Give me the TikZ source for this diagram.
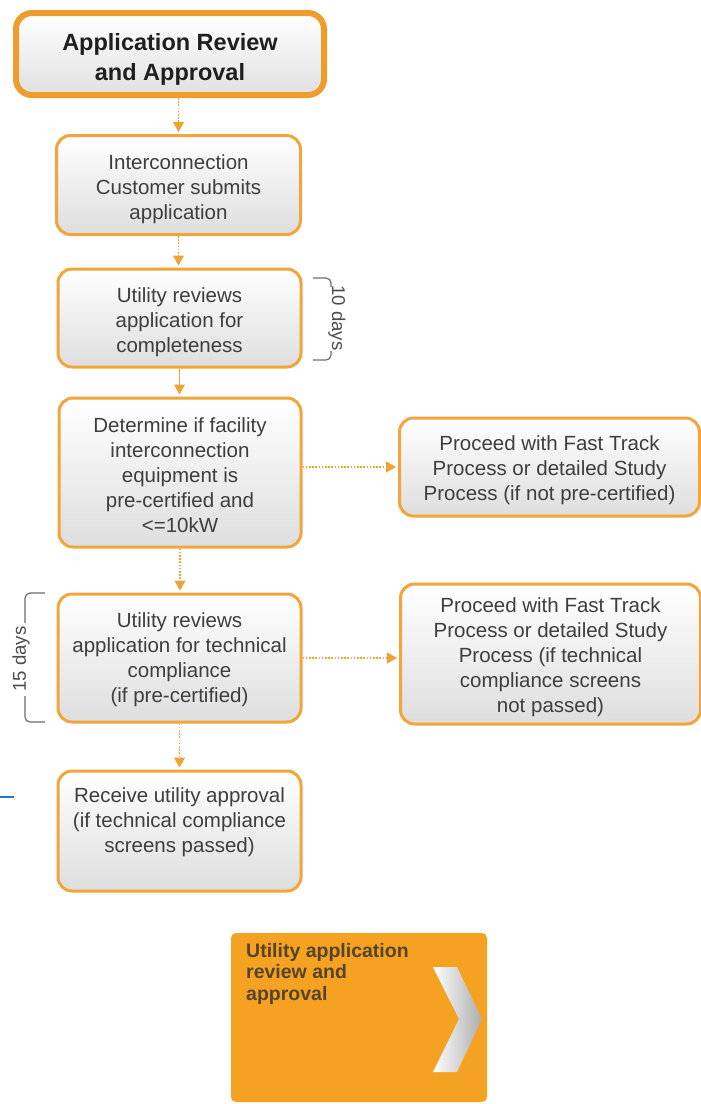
\documentclass[tikz,border=0pt]{standalone}
\usepackage{fontspec}
\setmainfont{Liberation Sans}
\usetikzlibrary{arrows.meta}

\definecolor{boxorange}{HTML}{F2A53A}
\definecolor{titleorange}{HTML}{EE9C2C}
\definecolor{linkorange}{HTML}{F0A233}
\definecolor{tabfill}{HTML}{F5A222}
\definecolor{bodytext}{HTML}{3E3E3E}
\definecolor{tabtext}{HTML}{56442A}
\definecolor{bracketgray}{HTML}{6E6E6E}
\definecolor{pageblue}{HTML}{2A74C8}

\begin{document}
\begin{tikzpicture}[x=1pt,y=-1pt,
  stepbox/.style={draw=boxorange, line width=3pt, rounded corners=14pt,
    top color=white, bottom color=black!13, inner sep=0pt},
  steptext/.style={align=center, text=bodytext,
    font=\fontsize{20.5}{25}\selectfont, inner sep=0pt},
  titlebox/.style={draw=titleorange, line width=6pt, rounded corners=16pt,
    top color=white, bottom color=black!12, inner sep=0pt},
  titletext/.style={align=center, text=black!88,
    font=\bfseries\fontsize{23.5}{30}\selectfont, inner sep=0pt},
  flow/.style={draw=linkorange, line width=1.2pt, dash pattern=on 1.6pt off 1.6pt,
    -{Triangle[width=11pt,length=10pt]}, shorten >=2pt},
  flowsolid/.style={draw=linkorange, line width=1.1pt,
    -{Triangle[width=11pt,length=10pt]}, shorten >=2pt},
  daylabel/.style={text=black!70, font=\fontsize{18.6}{20}\selectfont, inner sep=0pt},
  bracket/.style={draw=bracketgray, line width=1.2pt, rounded corners=5pt},
  tab/.style={fill=tabfill, rounded corners=5pt, inner sep=0pt},
  tablabel/.style={anchor=north west, inner sep=0pt, align=left, text=tabtext,
    font=\bfseries\fontsize{19.5}{21.5}\selectfont}
]
\useasboundingbox (0,0) rectangle (701,1104);
\fill[white] (0,0) rectangle (701,1104);

% main column: frames
\node[titlebox, minimum width=308pt, minimum height=82pt] (title) at (170,54) {};
\node[stepbox, minimum width=244pt, minimum height=99pt] (submit) at (178.5,185) {};
\node[stepbox, minimum width=243pt, minimum height=98pt] (complete) at (179.5,318) {};
\node[stepbox, minimum width=242pt, minimum height=149pt] (certify) at (180,472.5) {};
\node[stepbox, minimum width=243pt, minimum height=128pt] (technical) at (179.5,658) {};
\node[stepbox, minimum width=243pt, minimum height=120pt] (approve) at (179.5,831) {};

% side branches: frames
\node[stepbox, minimum width=300pt, minimum height=98pt] (fasttrackA) at (549.5,467) {};
\node[stepbox, minimum width=300pt, minimum height=140pt] (fasttrackB) at (550.5,654) {};

% labels
\node[titletext] (titleT) at (170,59) {Application Review\\and Approval};
\node[steptext] (submitT) at (178.5,189.5) {Interconnection\\Customer submits\\application};
\node[steptext] (completeT) at (179.5,322.5) {Utility reviews\\application for\\completeness};
\node[steptext] (certifyT) at (180,475)
  {Determine if facility\\interconnection\\equipment is\\pre-certified and\\<=10kW};
\node[steptext] (technicalT) at (179.5,660)
  {Utility reviews\\application for technical\\compliance\\(if pre-certified)};
\node[steptext] (approveT) at (179.5,822)
  {Receive utility approval\\(if technical compliance\\screens passed)};
\node[steptext] (fasttrackAT) at (549.5,470)
  {Proceed with Fast Track\\Process or detailed Study\\Process (if not pre-certified)};
\node[steptext] (fasttrackBT) at (550.5,657)
  {Proceed with Fast Track\\Process or detailed Study\\Process (if technical\\compliance screens\\not passed)};

% connectors
\draw[flow] (title.south -| submit.north) -- (submit.north);
\draw[flow] (submit.south) -- (submit.south |- complete.north);
\draw[flowsolid] (complete.south) -- (complete.south |- certify.north);
\draw[flow] (certify.south) -- (certify.south |- technical.north);
\draw[flow] (technical.south) -- (technical.south |- approve.north);
\draw[flow] (certify.east |- fasttrackA.west) -- (fasttrackA.west);
\draw[flow] (technical.east) -- (technical.east -| fasttrackB.west);

% durations
\node[daylabel, rotate=-90] (tenDays) at (337,318) {10 days};
\draw[bracket] (313,278) -- (331,278) -- (331,287);
\draw[bracket] (331,351) -- (331,360) -- (313,360);

\node[daylabel, rotate=90] (fifteenDays) at (21,659) {15 days};
\draw[bracket] (45,593) -- (25,593) -- (25,623);
\draw[bracket] (25,696) -- (25,722) -- (45,722);

% page edge mark
\coordinate (markA) at (0,797);
\coordinate (markB) at (14,797);
\draw[pageblue, line width=2pt] (markA) -- (markB);

% stage tab
\node[tab, minimum width=256pt, minimum height=169pt] (stage) at (359,1017.5) {};
\node[tablabel] (stagetext) at (246,943) {Utility application\\review and\\approval};
\shade[left color=white, right color=black!32]
  (433,967) -- (457,967) -- (482,1019) -- (457,1072) -- (433,1072) -- (459,1019) -- cycle;
\end{tikzpicture}
\end{document}
